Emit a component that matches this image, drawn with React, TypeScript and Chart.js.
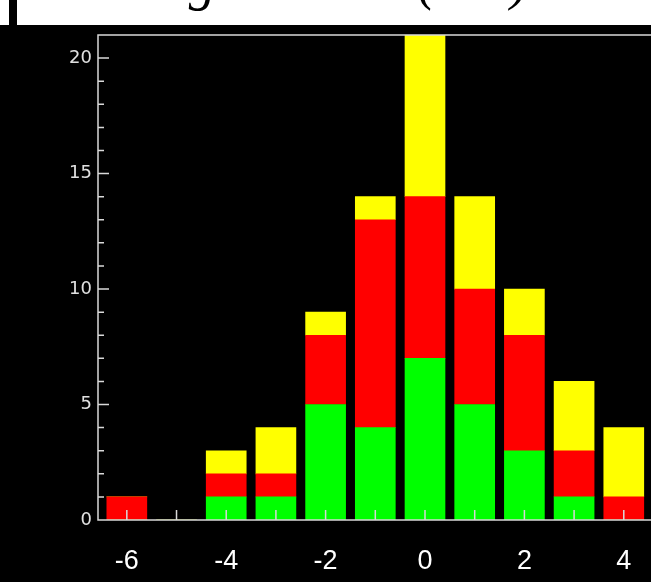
import React, { useEffect, useRef } from "react";
import { Chart, registerables } from "chart.js";

Chart.register(...registerables);

// ---- data ----
const BINS = [-6, -5, -4, -3, -2, -1, 0, 1, 2, 3, 4];
const GREEN = [0, 0, 1, 1, 5, 4, 7, 5, 3, 1, 0];
const RED = [1, 0, 1, 1, 3, 9, 7, 5, 5, 2, 1];
const YELLOW = [0, 0, 1, 2, 1, 1, 7, 4, 2, 3, 3];
const X_TICKS = [-6, -4, -2, 0, 2, 4, 6];
const Y_TICKS = [0, 5, 10, 15, 20];
const X_MIN = -6.58;
const X_MAX = 6.58;
const Y_MIN = 0;
const Y_MAX = 21;
const TITLE = "Δg residual (dex)";

const AXIS_COLOR = "#d9d9d9";

const framePlugin = {
  id: "idlFrame",
  afterDatasetsDraw(chart: any) {
    const { ctx, chartArea: a, scales } = chart;
    const x = scales.x;
    const y = scales.y;
    ctx.save();
    ctx.strokeStyle = AXIS_COLOR;
    ctx.lineWidth = 1.5;
    ctx.beginPath();
    ctx.moveTo(a.right, a.top);
    ctx.lineTo(a.left, a.top);
    ctx.lineTo(a.left, a.bottom);
    ctx.lineTo(a.right, a.bottom);
    for (let v = Math.ceil(y.min); v <= Math.floor(y.max); v++) {
      const py = y.getPixelForValue(v);
      const len = v % 5 === 0 ? 11 : 6;
      ctx.moveTo(a.left, py);
      ctx.lineTo(a.left + len, py);
    }
    for (let v = Math.ceil(x.min); v <= Math.floor(x.max); v++) {
      const px = x.getPixelForValue(v);
      ctx.moveTo(px, a.bottom);
      ctx.lineTo(px, a.bottom - 10);
    }
    ctx.stroke();
    ctx.restore();
  },
};

export default function App() {
  const ref = useRef<HTMLCanvasElement | null>(null);

  useEffect(() => {
    if (!ref.current) return;
    const mk = (vals: number[], color: string, label: string) => ({
      label,
      data: BINS.map((b, i) => ({ x: b, y: vals[i] })),
      backgroundColor: color,
      borderWidth: 0,
      barThickness: 40,
    });
    const chart = new Chart(ref.current, {
      type: "bar",
      data: {
        datasets: [
          mk(GREEN, "#00ff00", "green"),
          mk(RED, "#ff0000", "red"),
          mk(YELLOW, "#ffff00", "yellow"),
        ],
      },
      options: {
        responsive: true,
        maintainAspectRatio: false,
        animation: false,
        devicePixelRatio: 1,
        layout: { padding: { top: 35, left: 0, right: 8, bottom: 0 } },
        plugins: { legend: { display: false }, tooltip: { enabled: false }, title: { display: false } },
        scales: {
          x: {
            type: "linear",
            min: X_MIN,
            max: X_MAX,
            offset: false,
            stacked: true,
            grid: { display: false, drawTicks: false, offset: false },
            border: { display: false },
            afterBuildTicks: (s: any) => {
              s.ticks = X_TICKS.map((v) => ({ value: v }));
            },
            afterFit: (s: any) => {
              s.height = 62;
            },
            ticks: {
              color: "#ffffff",
              font: { family: '"Liberation Sans", Arial, sans-serif', size: 27 },
              padding: 25,
              maxRotation: 0,
              minRotation: 0,
              autoSkip: false,
              callback: (v: any) => String(v),
            },
          },
          y: {
            type: "linear",
            min: Y_MIN,
            max: Y_MAX,
            stacked: true,
            grid: { display: false, drawTicks: false },
            border: { display: false },
            afterBuildTicks: (s: any) => {
              s.ticks = Y_TICKS.map((v) => ({ value: v }));
            },
            afterFit: (s: any) => {
              s.width = 98;
            },
            ticks: {
              color: "#e0e0e0",
              font: { family: '"DejaVu Sans", sans-serif', size: 18 },
              padding: 6,
              callback: (v: any) => String(v),
            },
          },
        },
      },
      plugins: [framePlugin],
    } as any);
    return () => chart.destroy();
  }, []);

  return (
    <div>
      <div
        style={{
          position: "fixed",
          left: 0,
          top: 0,
          width: 651,
          height: 582,
          overflow: "hidden",
          background: "#000",
        }}
      >
        <div style={{ position: "absolute", left: 0, top: 0, width: 760, height: 582 }}>
          <canvas ref={ref} />
        </div>
        <div
          style={{
            position: "absolute",
            left: 0,
            top: 0,
            width: 651,
            height: 25,
            background: "#fff",
            overflow: "hidden",
          }}
        >
          <div style={{ position: "absolute", left: 9, top: 0, width: 8, height: 25, background: "#000" }} />
          <span
            style={{
              position: "absolute",
              left: 157,
              top: -46,
              fontFamily: '"Liberation Serif", "Times New Roman", serif',
              fontStyle: "italic",
              fontSize: 54,
              lineHeight: "54px",
              whiteSpace: "nowrap",
              color: "#000",
            }}
          >
            {TITLE}
          </span>
        </div>
      </div>
    </div>
  );
}
